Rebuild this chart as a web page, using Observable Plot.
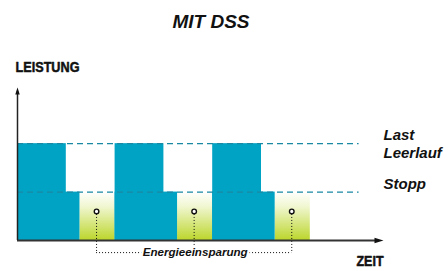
<!DOCTYPE html>
<html>
<head>
<meta charset="utf-8">
<script src="https://cdn.jsdelivr.net/npm/d3@7"></script>
<script src="https://cdn.jsdelivr.net/npm/@observablehq/plot@0.6"></script>
<style>
  html, body { margin: 0; padding: 0; background: #fff; }
  #chart svg { display: block; }
</style>
</head>
<body>
<div id="chart"></div>
<script>
// ---- data ----
const title = "MIT DSS";
const yLabel = "LEISTUNG";
const xLabel = "ZEIT";
const annotation = "Energieeinsparung";

const cycleStarts  = [0, 10, 20];      // start of each cycle (time units)
const lastEnds     = [5, 15, 25];      // end of "Last" phase
const leerlaufEnds = [6.4, 16.4, 26.4]; // end of "Leerlauf" phase
const stoppEnds    = [10, 20, 30];     // end of "Stopp" phase

const levelNames  = ["Stopp", "Last"];
const levelValues = [1, 2];            // Leistung levels of the dashed lines
const rightLabels = ["Last", "Leerlauf", "Stopp"];
const rightLabelLevels = [2, 2, 1];

const markerTimes = [8.1, 18.1, 28.1]; // Energieeinsparung markers
const markerLevel = 0.6;
const bracketLevel = -0.25;

const xMax = 37.5;   // time axis extent
const yMax = 3.16;   // power axis extent
const dashEnd = 35;  // end of dashed level lines

// ---- styles ----
const BLUE = "#00a3c4";
const DASH = "#1a88a3";
const ITALIC = "'Liberation Sans', Arial, Helvetica, sans-serif";
const NARROW = "'Liberation Sans Narrow', 'Arial Narrow', 'Liberation Sans', Arial, sans-serif";

const cycles = cycleStarts.map((s, i) => ({start: s, last: lastEnds[i], leer: leerlaufEnds[i], stopp: stoppEnds[i]}));
const levels = levelValues.map((v, i) => ({name: levelNames[i], v}));
const labels = rightLabels.map((t, i) => ({t, v: rightLabelLevels[i]}));

const arrowHead = (len, w) => ({
  draw(context) {
    context.moveTo(0, 0);
    context.lineTo(w / 2, len);
    context.lineTo(-w / 2, len);
    context.closePath();
  }
});

const defs = () => {
  const ns = "http://www.w3.org/2000/svg";
  const d = document.createElementNS(ns, "defs");
  const g = document.createElementNS(ns, "linearGradient");
  g.setAttribute("id", "saving");
  g.setAttribute("x1", "0"); g.setAttribute("y1", "0");
  g.setAttribute("x2", "0"); g.setAttribute("y2", "1");
  [[0, "#ffffff"], [0.3, "#f1f7d2"], [1, "#bcd62c"]].forEach(([o, c]) => {
    const s = document.createElementNS(ns, "stop");
    s.setAttribute("offset", o);
    s.setAttribute("stop-color", c);
    g.appendChild(s);
  });
  d.appendChild(g);
  return d;
};

const chart = Plot.plot({
  width: 448,
  height: 271,
  marginLeft: 17,
  marginRight: 65,
  marginTop: 87,
  marginBottom: 31,
  style: {background: "white", overflow: "visible"},
  x: {domain: [0, xMax], axis: null},
  y: {domain: [0, yMax], axis: null},
  marks: [
    defs,
    // Stopp phase (energy saving) gradient
    Plot.rect(cycles, {x1: "leer", x2: "stopp", y1: 0, y2: levelValues[0], fill: "url(#saving)"}),
    // Leerlauf + Last bars
    Plot.rect(cycles, {x1: "start", x2: "leer", y1: 0, y2: levelValues[0], fill: BLUE}),
    Plot.rect(cycles, {x1: "start", x2: "last", y1: 0, y2: levelValues[1], fill: BLUE}),
    // dashed level lines
    Plot.ruleY(levels, {y: "v", x1: 0, x2: dashEnd, stroke: DASH, strokeWidth: 1.4, strokeDasharray: "6,4"}),
    // dotted bracket
    Plot.ruleX(markerTimes, {x: d => d, y1: markerLevel, y2: bracketLevel, stroke: "#111", strokeWidth: 1, strokeDasharray: "1,2"}),
    Plot.ruleY([bracketLevel], {y: d => d, x1: markerTimes[0], x2: markerTimes[2], stroke: "#111", strokeWidth: 1, strokeDasharray: "1,2"}),
    Plot.dot(markerTimes, {x: d => d, y: markerLevel, r: 2.3, stroke: "#111", strokeWidth: 1.4, fill: "white"}),
    Plot.text([annotation], {x: markerTimes[1], y: bracketLevel, text: d => d, fontFamily: ITALIC, fontWeight: "bold", fontStyle: "italic", fontSize: 11.6, fill: "#111", stroke: "white", strokeWidth: 5, lineAnchor: "middle", dx: 1}),
    // axes
    Plot.ruleY([0], {x1: 0, x2: xMax - 0.6, stroke: "#333", strokeWidth: 2}),
    Plot.ruleX([0], {y1: 0, y2: yMax - 0.08, stroke: "#222", strokeWidth: 1.5}),
    Plot.dot([0], {x: 0, y: yMax, symbol: arrowHead(7, 4.5), r: 3, fill: "#111", stroke: "none"}),
    Plot.dot([0], {x: xMax, y: 0, symbol: arrowHead(9, 5.5), rotate: 90, r: 3, fill: "#111", stroke: "none"}),
    // right labels
    Plot.text(labels.filter(d => d.t !== "Leerlauf"), {x: xMax, y: "v", text: "t", textAnchor: "start", lineAnchor: "bottom", dy: -3.5, fontFamily: ITALIC, fontWeight: "bold", fontStyle: "italic", fontSize: 15, fill: "#111"}),
    Plot.text(labels.filter(d => d.t === "Leerlauf"), {x: xMax, y: "v", text: "t", textAnchor: "start", lineAnchor: "bottom", dy: 14.8, fontFamily: ITALIC, fontWeight: "bold", fontStyle: "italic", fontSize: 15, fill: "#111"}),
    // titles
    Plot.text([title], {frameAnchor: "top", text: d => d, dx: 10.5, dy: -59.5, lineAnchor: "bottom", fontFamily: ITALIC, fontWeight: "bold", fontStyle: "italic", fontSize: 19, fill: "#111"}),
    Plot.text([yLabel], {frameAnchor: "top-left", text: d => d, dx: -2, dy: -16, textAnchor: "start", lineAnchor: "bottom", fontFamily: NARROW, fontWeight: "bold", fontSize: 15, fill: "#111", stroke: "#111", strokeWidth: 0.5}),
    Plot.text([xLabel], {frameAnchor: "bottom-right", text: d => d, dy: 25.7, textAnchor: "end", lineAnchor: "bottom", fontFamily: NARROW, fontWeight: "bold", fontSize: 14, fill: "#111", stroke: "#111", strokeWidth: 0.5})
  ]
});

// condense the axis labels (narrow grotesque look)
const condensed = {[yLabel]: 64, [xLabel]: 27};
chart.querySelectorAll("text").forEach(t => {
  const len = condensed[t.textContent];
  if (len) {
    t.setAttribute("textLength", len);
    t.setAttribute("lengthAdjust", "spacingAndGlyphs");
  }
});

document.getElementById("chart").appendChild(chart);
</script>
</body>
</html>
